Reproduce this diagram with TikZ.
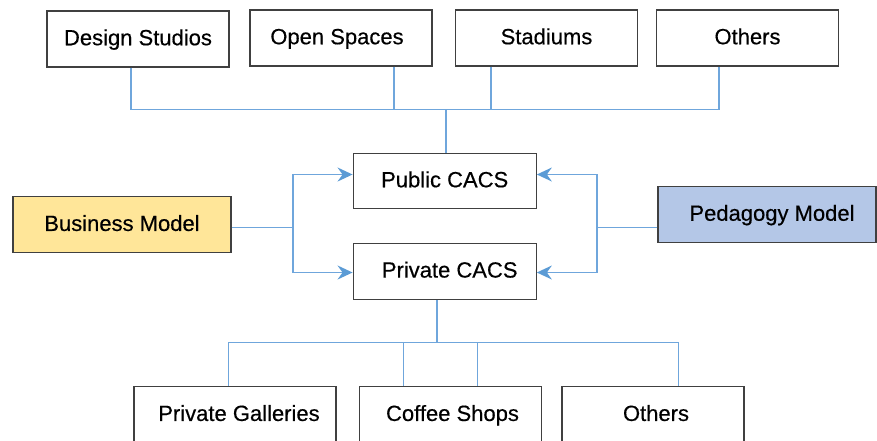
\documentclass[tikz,border=0pt]{standalone}
\usepackage{fontspec}
\setmainfont{Liberation Sans}
\newfontface\boxfont{Liberation Sans}[RawFeature={embolden=0.4}]
\usetikzlibrary{arrows.meta}
\definecolor{linkblue}{HTML}{6FA6DC}
\definecolor{arrblue}{HTML}{5B9BD5}
\definecolor{boxedge}{HTML}{404040}
\definecolor{bizfill}{HTML}{FFE699}
\definecolor{pedfill}{HTML}{B4C7E7}
\begin{document}
\begin{tikzpicture}[x=1pt,y=-1pt,
  box/.style={draw=boxedge, line width=1.3pt, fill=white, minimum width=182pt, minimum height=56pt,
    inner sep=0pt, text height=16pt, text depth=3.5pt, font=\boxfont\fontsize{22}{26}\selectfont},
  link/.style={draw=linkblue, line width=1.4pt},
  arr/.style={draw=linkblue, line width=1.4pt, -{Stealth[length=15pt,width=14pt,inset=5pt,color=arrblue]}}]
\path[use as bounding box] (0,0) rectangle (877,440);
\clip (0,0) rectangle (877,440);
% top row
\node[box] (ds) at (138,39) {Design Studios};
\node[box] (os) at (341,38) {Open Spaces\hspace*{8pt}};
\node[box] (st) at (546.5,38) {Stadiums};
\node[box] (ot1) at (747.5,38) {Others};
% centre
\node[box, minimum width=183pt, minimum height=55.5pt] (pub) at (444.7,181) {Public CACS};
\node[box, minimum width=183pt] (priv) at (444.7,271.3) {\hspace*{10pt}Private CACS};
\node[box, fill=bizfill, minimum width=218pt] (bm) at (122,224.7) {Business Model};
\node[box, fill=pedfill, minimum width=218pt] (pm) at (767,214.5) {\hspace*{10pt}Pedagogy Model};
% bottom row
\node[box, minimum width=202pt] (pg) at (235,414.7) {\hspace*{8pt}Private Galleries};
\node[box] (cs) at (450.5,414.7) {\hspace*{4pt}Coffee Shops};
\node[box] (ob) at (653,414.7) {\hspace*{6pt}Others};
% top connectors
\coordinate (t1) at (131,109.5);
\coordinate (t2) at (394,109.5);
\coordinate (t3) at (491,109.5);
\coordinate (t4) at (719,109.5);
\coordinate (tj) at (446,109.5);
\draw[link] (ds.south -| t1) -- (t1) -- (t4) -- (ot1.south -| t4);
\draw[link] (os.south -| t2) -- (t2);
\draw[link] (st.south -| t3) -- (t3);
\draw[link] (tj) -- (pub.north -| tj);
% business model connectors
\coordinate (bj) at (293,227.5);
\coordinate (b1) at (293,174.5);
\coordinate (b2) at (293,272.5);
\draw[link] (bm.east |- bj) -- (bj);
\draw[arr] (bj) -- (b1) -- (pub.west |- b1);
\draw[arr] (bj) -- (b2) -- (priv.west |- b2);
% pedagogy model connectors
\coordinate (pj) at (597,227.5);
\coordinate (p1) at (597,174.5);
\coordinate (p2) at (597,272.5);
\draw[link] (pm.west |- pj) -- (pj);
\draw[arr] (pj) -- (p1) -- (pub.east |- p1);
\draw[arr] (pj) -- (p2) -- (priv.east |- p2);
% bottom connectors
\coordinate (qj) at (437.3,342.5);
\coordinate (q1) at (228.7,342.5);
\coordinate (q2) at (403.3,342.5);
\coordinate (q3) at (477.3,342.5);
\coordinate (q4) at (678.3,342.5);
\draw[link, line width=1.8pt] (priv.south -| qj) -- (qj);
\draw[link] (pg.north -| q1) -- (q1) -- (q4) -- (ob.north -| q4);
\draw[link] (q2) -- (cs.north -| q2);
\draw[link] (q3) -- (cs.north -| q3);
\end{tikzpicture}
\end{document}
